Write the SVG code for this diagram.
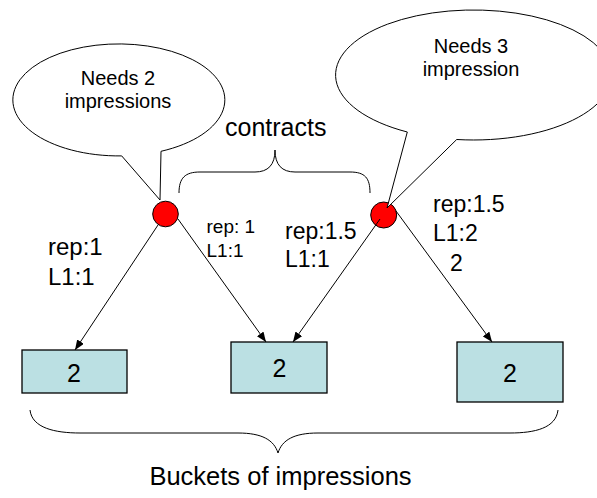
<svg xmlns="http://www.w3.org/2000/svg" width="597" height="498" viewBox="0 0 597 498">
  <style>
    text { font-family: "Liberation Sans", Arial, sans-serif; fill: #000; }
    .callout { fill: #fff; stroke: #000; stroke-width: 1; }
    .contract { fill: #ff0000; stroke: #000; stroke-width: 1; }
    .bucket { fill: #bbe0e3; stroke: #000; stroke-width: 1.3; }
    .brace { fill: none; stroke: #000; stroke-width: 1; }
    .edge { fill: none; stroke: #000; stroke-width: 1; marker-end: url(#arrow); }
    .num { font-size: 25px; text-anchor: middle; }
    .note { font-size: 20px; text-anchor: middle; }
  </style>
  <defs>
    <marker id="arrow" markerUnits="userSpaceOnUse" markerWidth="10" markerHeight="8" refX="10" refY="4" orient="auto">
      <path d="M0,0 L10,4 L0,8 z" fill="#000"/>
    </marker>
  </defs>

  <!-- impression buckets -->
  <g id="bucket-left">
    <rect class="bucket" x="22" y="350" width="105" height="43"/>
    <text class="num" x="74" y="382">2</text>
  </g>
  <g id="bucket-middle">
    <rect class="bucket" x="231" y="342" width="96" height="51"/>
    <text class="num" x="279.5" y="377">2</text>
  </g>
  <g id="bucket-right">
    <rect class="bucket" x="457" y="342" width="106" height="60"/>
    <text class="num" x="510" y="382">2</text>
  </g>

  <!-- contracts -->
  <g id="contract-left">
    <circle class="contract" cx="165.5" cy="214" r="12.8"/>
  </g>
  <g id="contract-right">
    <circle class="contract" cx="383.7" cy="215" r="13"/>
  </g>

  <!-- allocation arrows -->
  <g id="connectors">
    <line class="edge" x1="158" y1="225" x2="75" y2="350"/>
    <line class="edge" x1="178" y1="219" x2="266" y2="342"/>
    <line class="edge" x1="380" y1="219" x2="293" y2="342"/>
    <line class="edge" x1="396" y1="211" x2="492" y2="342"/>
  </g>

  <!-- demand callouts -->
  <g id="callout-left">
    <path class="callout" d="M121.7,155.9 L160,200 L161,151.3 A106,56 0 1 0 121.7,155.9 Z"/>
    <text class="note" x="118" y="85">Needs 2</text>
    <text class="note" x="118" y="108">impressions</text>
  </g>
  <g id="callout-right">
    <path class="callout" d="M407.3,132 L387,208 L456.7,139.5 A138,65 0 1 0 407.3,132 Z"/>
    <text class="note" x="471" y="53">Needs 3</text>
    <text class="note" x="471" y="76">impression</text>
  </g>

  <!-- braces -->
  <g id="contracts-label">
    <path class="brace" d="M179,193 C179,178 185,172 200,172 L255,172 C268,172 275,165 275,150 C275,165 282,172 295,172 L350,172 C365,172 370,178 370,193"/>
    <text x="225" y="136" font-size="25">contracts</text>
  </g>
  <g id="buckets-label">
    <path class="brace" d="M30,410 C32,428 55,433 80,433 L238,433 C262,433 274,440 278,453 C282,440 294,433 318,433 L510,433 C535,433 556,428 558,410"/>
    <text x="280.5" y="485" font-size="25.5" text-anchor="middle">Buckets of impressions</text>
  </g>

  <!-- edge labels -->
  <g id="label-left">
    <text x="48" y="255" font-size="24">rep:1</text>
    <text x="48" y="285" font-size="24">L1:1</text>
  </g>
  <g id="label-left-mid">
    <text x="206.5" y="233" font-size="19">rep: 1</text>
    <text x="206.5" y="256.5" font-size="19">L1:1</text>
  </g>
  <g id="label-right-mid">
    <text x="285" y="239" font-size="23">rep:1.5</text>
    <text x="285" y="267" font-size="23">L1:1</text>
  </g>
  <g id="label-right">
    <text x="433" y="212" font-size="23">rep:1.5</text>
    <text x="433" y="241" font-size="23">L1:2</text>
    <text x="450" y="271" font-size="23">2</text>
  </g>
</svg>
